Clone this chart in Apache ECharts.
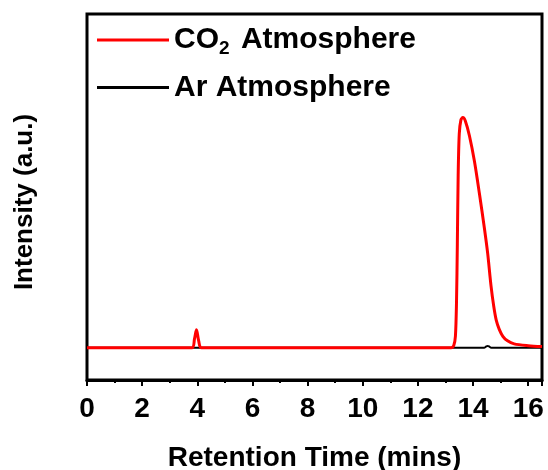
<!DOCTYPE html>
<html>
<head>
<meta charset="utf-8">
<script src="https://cdn.jsdelivr.net/npm/echarts@6/dist/echarts.min.js"></script>
<style>
html, body { margin: 0; padding: 0; background: #fff; }
#chart { width: 548px; height: 470px; }
</style>
</head>
<body>
<div id="chart"></div>
<script>
// retention time (min) and intensity
let co2Time  = [0, 3.8, 3.9, 3.97, 4.05, 4.15, 13.2, 13.3, 13.36, 13.4, 13.43, 13.46, 13.5, 13.56, 13.63, 13.72, 13.87, 14.05, 14.23, 14.41, 14.53, 14.65, 14.75, 14.84, 14.95, 15.08, 15.25, 15.49, 16, 16.5];
let co2Value = [0, 0, 0.04, 0.078, 0.03, 0, 0, 0.01, 0.05, 0.2, 0.45, 0.75, 0.93, 0.99, 1.0, 0.985, 0.92, 0.81, 0.67, 0.52, 0.41, 0.27, 0.18, 0.12, 0.08, 0.05, 0.03, 0.017, 0.009, 0.005];
let arTime   = [0, 14.4, 14.48, 14.53, 14.58, 14.66, 16.5];
let arValue  = [0, 0, 0.006, 0.008, 0.006, 0, 0];
let xTicks   = [0, 2, 4, 6, 8, 10, 12, 14, 16];

function pairs(xs, ys) {
	return xs.map(function (x, i) { return [x, ys[i]]; });
}

let chart = echarts.init(document.getElementById("chart"));
let font = "Liberation Sans";

chart.setOption({
	animation: false,
	grid: {
		left: 87, right: 6, top: 14, bottom: 90,
		outerBoundsMode: "none", containLabel: false,
		show: true, borderColor: "#000", borderWidth: 3
	},
	legend: {
		left: 92, top: 20, orient: "vertical",
		itemWidth: 72, itemHeight: 3, itemGap: 14,
		icon: "rect",
		data: ["CO2 Atmosphere", "Ar Atmosphere"],
		formatter: function (name) {
			if (name === "CO2 Atmosphere") {
				return "{a|CO}{s|2}{a| Atmosphere}";
			}
			return "{a|" + name + "}";
		},
		textStyle: {
			rich: {
				a: { fontFamily: font, fontWeight: "bold", fontSize: 30, color: "#000" },
				s: { fontFamily: font, fontWeight: "bold", fontSize: 19, color: "#000", padding: [18, 3, 0, 0] }
			}
		}
	},
	xAxis: {
		type: "value", min: 0, max: 16.5, interval: 2,
		name: "Retention Time (mins)", nameLocation: "middle", nameGap: 64,
		nameTextStyle: { fontFamily: font, fontWeight: "bold", fontSize: 28, color: "#000" },
		axisLine: { onZero: false, lineStyle: { color: "#000", width: 3 } },
		axisTick: { length: 6, lineStyle: { color: "#000", width: 2 } },
		minorTick: { show: true, splitNumber: 2, length: 3, lineStyle: { color: "#000", width: 2 } },
		axisLabel: {
			fontFamily: font, fontWeight: "bold", fontSize: 28, color: "#000", margin: 15,
			formatter: function (v) { return xTicks.indexOf(v) >= 0 ? String(v) : ""; }
		},
		splitLine: { show: false }
	},
	yAxis: {
		type: "value", min: -0.14, max: 1.45,
		name: "Intensity (a.u.)", nameLocation: "middle", nameGap: 49,
		nameTextStyle: { fontFamily: font, fontWeight: "bold", fontSize: 26, color: "#000", padding: [0, 10, 0, 0] },
		axisLine: { show: false },
		axisTick: { show: false },
		axisLabel: { show: false },
		splitLine: { show: false }
	},
	series: [
		{
			name: "Ar Atmosphere", type: "line", data: pairs(arTime, arValue),
			showSymbol: false, smooth: 0.3,
			itemStyle: { color: "#000" },
			lineStyle: { color: "#000", width: 2 }
		},
		{
			name: "CO2 Atmosphere", type: "line", data: pairs(co2Time, co2Value),
			showSymbol: false, smooth: 0.3,
			itemStyle: { color: "#ff0000" },
			lineStyle: { color: "#ff0000", width: 3 }
		}
	]
});
</script>
</body>
</html>
